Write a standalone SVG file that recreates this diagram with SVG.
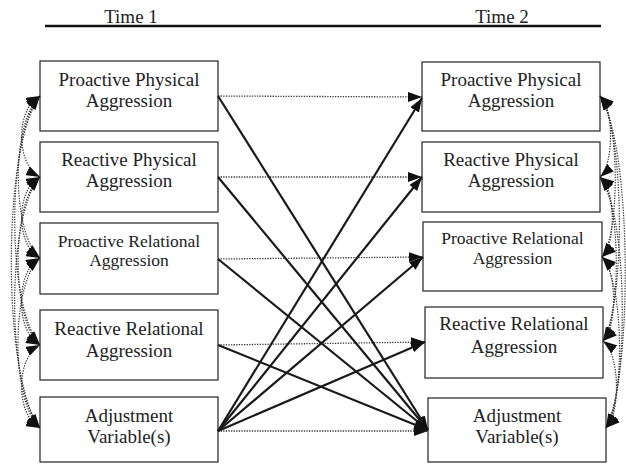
<svg xmlns="http://www.w3.org/2000/svg" width="626" height="464" viewBox="0 0 626 464">
<style>
.box{fill:#fff;stroke:#222;stroke-width:1.2}
text{font-family:'Liberation Serif','DejaVu Serif',serif;font-size:19px;fill:#222;text-anchor:middle}
text.ts{font-size:17.5px}
.solid{fill:none;stroke:#1a1a1a;stroke-width:2.2;marker-end:url(#ah)}
.dot{fill:none;stroke:#333;stroke-width:1.3;stroke-dasharray:1.3 1.3;marker-end:url(#ah)}
.cor{fill:none;stroke:#333;stroke-width:1.2;stroke-dasharray:1.3 1.3;marker-start:url(#ah);marker-end:url(#ah)}
</style>
<defs>
<marker id="ah" viewBox="0 0 14 10" refX="14" refY="5" markerWidth="14" markerHeight="10" orient="auto-start-reverse" markerUnits="userSpaceOnUse">
<path d="M0,0 L14,5 L0,10 z" fill="#111"/>
</marker>
</defs>
<g id="header">
<line x1="45" y1="26" x2="601" y2="26" stroke="#111" stroke-width="2.5"/>
<text x="131" y="23" font-family="Liberation Serif">Time 1</text>
<text x="502" y="23" font-family="Liberation Serif">Time 2</text>
</g>
<g id="L1"><rect class="box" x="40" y="61" width="178" height="70"/><text x="129" y="86">Proactive Physical</text><text x="129" y="107">Aggression</text></g>
<g id="L2"><rect class="box" x="40" y="142" width="178" height="70"/><text x="129" y="166">Reactive Physical</text><text x="129" y="187">Aggression</text></g>
<g id="L3"><rect class="box" x="40" y="223" width="178" height="71"/><text class="ts" x="129" y="247">Proactive Relational</text><text class="ts" x="129" y="266">Aggression</text></g>
<g id="L4"><rect class="box" x="40" y="310" width="178" height="70"/><text x="129" y="335">Reactive Relational</text><text x="129" y="357">Aggression</text></g>
<g id="L5"><rect class="box" x="40" y="397" width="178" height="65"/><text x="129" y="422">Adjustment</text><text x="129" y="443">Variable(s)</text></g>
<g id="R1"><rect class="box" x="422" y="62" width="178" height="69"/><text x="511" y="86">Proactive Physical</text><text x="511" y="107">Aggression</text></g>
<g id="R2"><rect class="box" x="422" y="142" width="178" height="70"/><text x="511" y="166">Reactive Physical</text><text x="511" y="187">Aggression</text></g>
<g id="R3"><rect class="box" x="423" y="222" width="179" height="69"/><text class="ts" x="512.5" y="244">Proactive Relational</text><text class="ts" x="512.5" y="264">Aggression</text></g>
<g id="R4"><rect class="box" x="425" y="307" width="178" height="71"/><text x="514" y="330">Reactive Relational</text><text x="514" y="353">Aggression</text></g>
<g id="R5"><rect class="box" x="428" y="398" width="178" height="64"/><text x="517" y="422">Adjustment</text><text x="517" y="443">Variable(s)</text></g>
<g id="connectors">
<path class="dot" d="M218,96 L422,97"/>
<path class="dot" d="M218,177 L422,177"/>
<path class="dot" d="M218,259 L423,257"/>
<path class="dot" d="M218,345 L425,342"/>
<path class="dot" d="M218,431 L428,431"/>
<path class="solid" d="M218,96 L428,430"/>
<path class="solid" d="M218,177 L428,430"/>
<path class="solid" d="M218,259 L428,430"/>
<path class="solid" d="M218,345 L428,430"/>
<path class="solid" d="M218,431 L422,98"/>
<path class="solid" d="M218,431 L422,177"/>
<path class="solid" d="M218,431 L423,257"/>
<path class="solid" d="M218,431 L425,342"/>
<path class="cor" d="M40,96 C15.5,108.2 15.5,164.8 40,177"/>
<path class="cor" d="M40,96 C11.1,120.3 11.1,233.7 40,258"/>
<path class="cor" d="M40,96 C6.3,133.4 6.3,307.6 40,345"/>
<path class="cor" d="M40,96 C1.7,145.8 1.7,378.2 40,428"/>
<path class="cor" d="M40,177 C15.5,189.2 15.5,245.8 40,258"/>
<path class="cor" d="M40,177 C10.8,202.2 10.8,319.8 40,345"/>
<path class="cor" d="M40,177 C6.2,214.7 6.2,390.3 40,428"/>
<path class="cor" d="M40,258 C15.2,271 15.2,332 40,345"/>
<path class="cor" d="M40,258 C10.6,283.5 10.6,402.5 40,428"/>
<path class="cor" d="M40,345 C15.4,357.5 15.4,415.5 40,428"/>
<path class="cor" d="M600,96 C614,108.2 614,164.8 600,177"/>
<path class="cor" d="M600,96 C620,120.2 620,232.8 602,257"/>
<path class="cor" d="M600,96 C625.3,132.8 625.3,304.2 603,341"/>
<path class="cor" d="M600,96 C632.6,145.8 632.6,378.2 606,428"/>
<path class="cor" d="M600,177 C616,189 616,245 602,257"/>
<path class="cor" d="M600,177 C621.2,201.6 621.2,316.4 603,341"/>
<path class="cor" d="M600,177 C628.6,214.7 628.6,390.3 606,428"/>
<path class="cor" d="M602,257 C617.2,269.6 617.2,328.4 603,341"/>
<path class="cor" d="M602,257 C624.6,282.7 624.6,402.3 606,428"/>
<path class="cor" d="M603,341 C620.4,354 620.4,415 606,428"/>
</g>
</svg>
